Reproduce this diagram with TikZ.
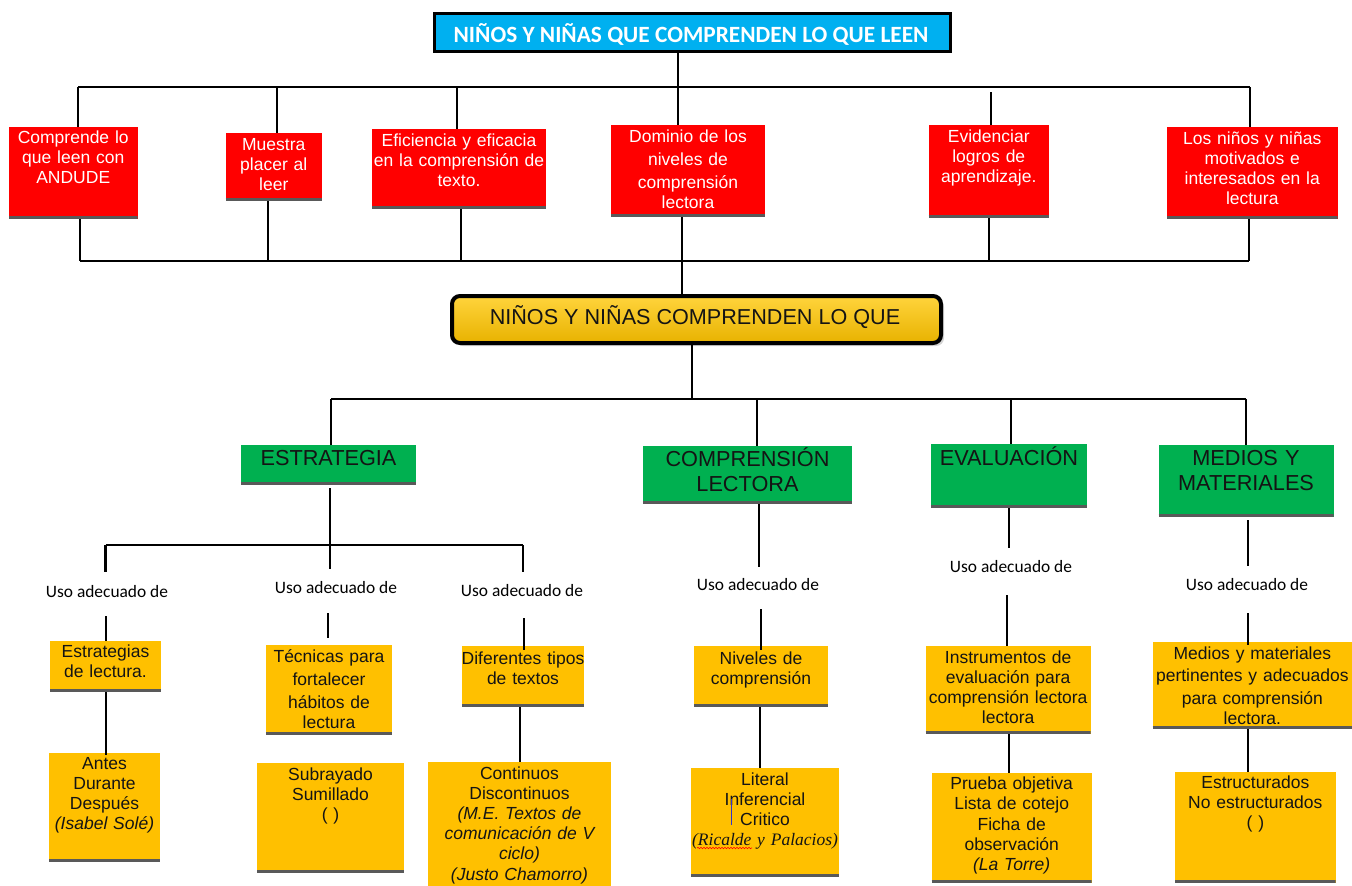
\documentclass[tikz,border=0pt]{standalone}
\usepackage{fontspec}
\setmainfont{Liberation Sans}
\newfontfamily\calib{Carlito}
\newfontfamily\timesf{Liberation Serif}
\usetikzlibrary{shadows,decorations.pathmorphing}
\definecolor{cblue}{RGB}{0,176,240}
\definecolor{cred}{RGB}{255,0,0}
\definecolor{cgreen}{RGB}{0,176,80}
\definecolor{cyel}{RGB}{255,192,0}
\definecolor{cedge}{RGB}{89,89,89}
\definecolor{ctxt}{RGB}{20,20,20}
\tikzset{
 boxbase/.style={inner sep=0pt, outer sep=0pt,
   path picture={\draw[line width=3pt, cedge] ([yshift=1.5pt]path picture bounding box.south west) -- ([yshift=1.5pt]path picture bounding box.south east);}},
 redbox/.style={boxbase, fill=cred},
 redboxtxt/.style={text=white, font=\fontsize{17.5}{20.3}\selectfont},
 grnbox/.style={boxbase, fill=cgreen},
 grnboxtxt/.style={text=ctxt, font=\fontsize{21.7}{25}\selectfont},
 yelbox/.style={boxbase, fill=cyel},
 yelboxtxt/.style={text=ctxt, font=\fontsize{17.5}{20.3}\selectfont},
 conn/.style={line width=2.6pt, black},
 uso/.style={font=\calib\fontsize{17.4}{20}\selectfont, inner sep=0pt, text=black},
}
\newcommand\tzbox[9]{%
 \pgfmathsetmacro\bw{#5-#3}%
 \pgfmathsetmacro\bh{#6-#4}%
 \pgfmathsetmacro\bx{(#3+#5)/2}%
 \pgfmathsetmacro\tw{#5-#3+60}%
 \node[#1, anchor=north west, minimum width=\bw pt, minimum height=\bh pt] (#2) at (#3,#4) {};
 \node[#1txt, anchor=base, inner sep=0pt, text width=\tw pt, align=center] (#2t) at (\bx,#7) {\setlength\baselineskip{#8pt}#9};
}
\begin{document}
\begin{tikzpicture}[x=1pt,y=-1pt]
\useasboundingbox (0,0) rectangle (1352,886);

% title
\node[draw=black, line width=2.5pt, fill=cblue, minimum width=516pt, minimum height=38pt, inner sep=0pt, anchor=north west,
  drop shadow={opacity=0.35, shadow xshift=2pt, shadow yshift=-2pt}] (title) at (433,12) {};
\node[anchor=base, inner sep=0pt, text=white, font=\calib\bfseries\fontsize{23.3}{27}\selectfont] (titlet) at (691,42) {NIÑOS Y NIÑAS QUE COMPRENDEN LO QUE LEEN};

% red boxes
\tzbox{redbox}{r1}{9}{127}{137.5}{219}{143}{20.3}{Comprende lo\\que leen con\\ANDUDE}
\tzbox{redbox}{r2}{225.5}{133}{322}{201}{150}{20.3}{Muestra\\placer al\\leer}
\tzbox{redbox}{r3}{372}{129}{546}{209}{146}{20.3}{Eficiencia y eficacia\\en la comprensión de\\texto.}
\tzbox{redbox}{r4}{611}{125}{765}{217}{142}{23}{Dominio de los\\niveles de\\comprensión\\lectora}
\tzbox{redbox}{r5}{928.5}{125}{1049}{218}{142}{20}{Evidenciar\\logros de\\aprendizaje.}
\tzbox{redbox}{r6}{1167}{127}{1337.5}{219}{144}{20.3}{Los niños y niñas\\motivados e\\interesados en la\\lectura}

% main yellow box
\node[draw=black, line width=4pt, rounded corners=8pt, top color={rgb,255:red,255;green,212;blue,60}, bottom color={rgb,255:red,232;green,178;blue,0},
  minimum width=489pt, minimum height=47pt, inner sep=0pt, anchor=north west,
  drop shadow={opacity=0.35, shadow xshift=3pt, shadow yshift=-3pt}] (main) at (450,294) {};
\node[anchor=base, inner sep=0pt, text=ctxt, font=\fontsize{21.6}{25}\selectfont] (maint) at (695,324) {NIÑOS Y NIÑAS COMPRENDEN LO QUE};

% green boxes
\tzbox{grnbox}{g1}{241}{445}{416}{485}{465}{25}{ESTRATEGIA}
\tzbox{grnbox}{g2}{643}{446}{852}{504}{466}{25}{COMPRENSIÓN\\LECTORA}
\tzbox{grnbox}{g3}{931}{444}{1087}{508}{465}{25}{EVALUACIÓN}
\tzbox{grnbox}{g4}{1158.5}{445}{1333.5}{517}{465}{25}{MEDIOS Y\\MATERIALES}

% labels
\node[uso] (u1) at (107,592) {Uso adecuado de};
\node[uso] (u2) at (336,588) {Uso adecuado de};
\node[uso] (u3) at (522,591) {Uso adecuado de};
\node[uso] (u4) at (758,585) {Uso adecuado de};
\node[uso] (u5) at (1011,567) {Uso adecuado de};
\node[uso] (u6) at (1247,585) {Uso adecuado de};

% yellow boxes
\tzbox{yelbox}{y1}{50}{641}{161}{692}{657}{22}{Estrategias\\de lectura.}
\tzbox{yelbox}{y2}{49}{753}{160}{862}{769}{20.3}{Antes\\Durante\\Después\\\itshape (Isabel Solé)}
\tzbox{yelbox}{y3}{266}{645}{392}{735}{662}{23}{Técnicas para\\fortalecer\\hábitos de\\lectura}
\tzbox{yelbox}{y4}{257}{763}{404}{873}{780}{20.5}{Subrayado\\Sumillado\\( )}
\tzbox{yelbox}{y5}{462}{646}{584}{707}{664}{23}{Diferentes tipos\\de textos}
\tzbox{yelbox}{y6}{428}{762}{611}{892}{779}{20.2}{Continuos\\Discontinuos\\{\itshape (M.E. Textos de\\comunicación de V\\ciclo)\\(Justo Chamorro)}}
\tzbox{yelbox}{y7}{694}{646}{828}{707}{664}{23}{Niveles de\\comprensión}
\tzbox{yelbox}{y8}{691}{768}{839}{877}{785}{20.3}{Literal\\Inferencial\\Critico\\{\timesf\itshape (Ricalde y Palacios)}}
\tzbox{yelbox}{y9}{925.7}{646}{1090.7}{734}{663}{20.3}{Instrumentos de\\evaluación para\\comprensión lectora\\lectora}
\tzbox{yelbox}{y10}{931.7}{773}{1091.7}{883}{789}{20.5}{Prueba objetiva\\Lista de cotejo\\Ficha de\\observación\\\itshape (La Torre)}
\tzbox{yelbox}{y11}{1152.7}{642}{1352}{729}{659}{22.7}{Medios y materiales\\pertinentes y adecuados\\para comprensión\\lectora.}
\tzbox{yelbox}{y12}{1175}{772}{1335.7}{883}{788}{20.5}{Estructurados\\No estructurados\\( )}

% spellcheck squiggle and cursor
\draw[red, line width=0.6pt, decorate, decoration={snake, amplitude=0.7pt, segment length=3pt}] (697,848) -- (752,848);
\draw[blue!60!gray, line width=0.8pt] (731,799) -- (731,825);

% ---- connectors top level
\coordinate (k0) at (678,0);
\draw[conn] (k0 |- title.south) -- (k0 |- r4.north);
\coordinate (b1L) at (78,87);
\coordinate (b1R) at (1250,87);
\draw[conn] (b1L) -- (b1R);
\draw[conn] (b1L) -- (b1L |- r1.north);
\coordinate (k2) at (277,87);
\draw[conn] (k2) -- (k2 |- r2.north);
\coordinate (k3) at (457,87);
\draw[conn] (k3) -- (k3 |- r3.north);
\coordinate (k5) at (991,92);
\draw[conn] (k5) -- (k5 |- r5.north);
\draw[conn] (b1R) -- (b1R |- r6.north);

\coordinate (b2L) at (80,261);
\coordinate (b2R) at (1249,261);
\draw[conn] (b2L) -- (b2R);
\draw[conn] (b2L |- r1.south) -- (b2L);
\coordinate (m2) at (268,261);
\draw[conn] (m2 |- r2.south) -- (m2);
\coordinate (m3) at (461,261);
\draw[conn] (m3 |- r3.south) -- (m3);
\coordinate (m5) at (989,261);
\draw[conn] (m5 |- r5.south) -- (m5);
\draw[conn] (b2R |- r6.south) -- (b2R);
\coordinate (m4) at (682,0);
\draw[conn] (m4 |- r4.south) -- (m4 |- main.north);

% ---- middle
\coordinate (n0) at (692,399);
\draw[conn] (n0 |- main.south) -- (n0);
\coordinate (b3L) at (331,399);
\coordinate (b3R) at (1246,399);
\draw[conn] (b3L) -- (b3R);
\draw[conn] (b3L) -- (b3L |- g1.north);
\coordinate (n2) at (757,399);
\draw[conn] (n2) -- (n2 |- g2.north);
\coordinate (n3) at (1011,399);
\draw[conn] (n3) -- (n3 |- g3.north);
\draw[conn] (b3R) -- (b3R |- g4.north);

% ---- ESTRATEGIA
\coordinate (p0) at (330,569);
\coordinate (p0s) at (330,488);
\draw[conn] (p0s) -- (p0);
\coordinate (b4L) at (105.6,545);
\coordinate (b4R) at (523,545);
\draw[conn] (b4L) -- (b4R);
\coordinate (e1) at (105.6,572);
\coordinate (e3) at (523,572);
\draw[conn] (b4L) -- (e1);
\draw[conn] (b4R) -- (e3);
\coordinate (q1) at (106,616);
\draw[conn] (q1) -- (q1 |- y1.north);
\coordinate (q2) at (328,613);
\coordinate (q2e) at (328,638);
\draw[conn] (q2) -- (q2e);
\coordinate (q3) at (524,618);
\draw[conn] (q3) -- (524,650);
\coordinate (ra) at (106,0);
\draw[conn] (ra |- y1.south) -- (106,755);
\coordinate (rb) at (520,0);
\draw[conn] (rb |- y5.south) -- (rb |- y6.north);

% ---- COMPRENSION
\coordinate (s0) at (759,567);
\draw[conn] (s0 |- g2.south) -- (s0);
\coordinate (q4) at (761,609);
\draw[conn] (q4) -- (761,650);
\coordinate (rc) at (760,0);
\draw[conn] (rc |- y7.south) -- (rc |- y8.north);

% ---- EVALUACION
\coordinate (t0) at (1009,548);
\draw[conn] (t0 |- g3.south) -- (t0);
\coordinate (q5) at (1007,595);
\draw[conn] (q5) -- (q5 |- y9.north);
\coordinate (rd) at (1009,0);
\draw[conn] (rd |- y9.south) -- (rd |- y10.north);

% ---- MEDIOS
\coordinate (v0) at (1248,566);
\coordinate (v0s) at (1248,520);
\draw[conn] (v0s) -- (v0);
\coordinate (q6) at (1248,613);
\draw[conn] (q6) -- (1248,645);
\coordinate (re) at (1248,0);
\draw[conn] (re |- y11.south) -- (re |- y12.north);
\end{tikzpicture}
\end{document}
